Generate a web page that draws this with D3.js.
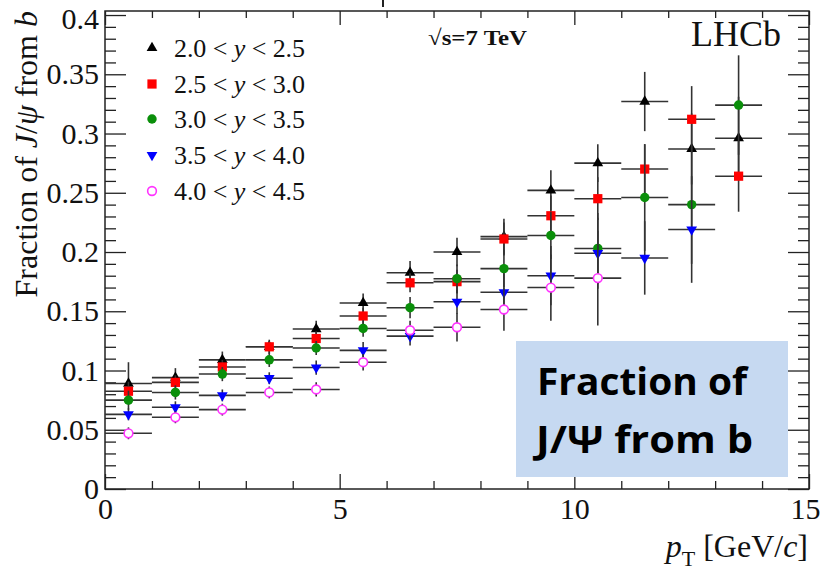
<!DOCTYPE html>
<html>
<head>
<meta charset="utf-8">
<script src="https://cdn.jsdelivr.net/npm/d3@7/dist/d3.min.js"></script>
<style>
  html, body { margin: 0; padding: 0; background: #fff; }
  svg { display: block; }
</style>
</head>
<body>
<svg id="chart" width="823" height="577"></svg>
<script>
// ---------------- data ----------------
const binLow  = [0, 1, 2, 3, 4, 5, 6, 7, 8, 9, 10, 11, 12, 13];
const binHigh = [1, 2, 3, 4, 5, 6, 7, 8, 9, 10, 11, 12, 13, 14];
const binCenter = [0.5, 1.5, 2.5, 3.5, 4.5, 5.5, 6.5, 7.5, 8.5, 9.5, 10.5, 11.5, 12.5, 13.5];

const seriesNames = ["2.0 < y < 2.5", "2.5 < y < 3.0", "3.0 < y < 3.5", "3.5 < y < 4.0", "4.0 < y < 4.5"];

const valY20 = [0.089, 0.094, 0.109, 0.120, 0.135, 0.157, 0.1825, 0.200, 0.213, 0.252, 0.275, 0.327, 0.287, 0.296];
const errY20 = [0.018, 0.008, 0.007, 0.006, 0.007, 0.008, 0.010, 0.012, 0.015, 0.017, 0.016, 0.025, 0.030, 0.035];

const valY25 = [0.0825, 0.090, 0.103, 0.120, 0.127, 0.146, 0.174, 0.175, 0.211, 0.2306, 0.245, 0.270, 0.312, 0.264];
const errY25 = [0.008, 0.006, 0.006, 0.005, 0.006, 0.007, 0.008, 0.010, 0.014, 0.017, 0.018, 0.021, 0.028, 0.030];

const valY30 = [0.075, 0.0815, 0.097, 0.109, 0.119, 0.1355, 0.153, 0.1775, 0.186, 0.214, 0.203, 0.246, 0.240, 0.324];
const errY30 = [0.008, 0.006, 0.006, 0.006, 0.006, 0.007, 0.009, 0.012, 0.016, 0.020, 0.030, 0.045, 0.050, 0.042];

const valY35 = [0.063, 0.069, 0.079, 0.0935, 0.1025, 0.117, 0.129, 0.158, 0.166, 0.180, 0.199, 0.195, 0.219];
const errY35 = [0.005, 0.005, 0.005, 0.005, 0.006, 0.007, 0.008, 0.010, 0.016, 0.025, 0.030, 0.031, 0.045];

const valY40 = [0.047, 0.0605, 0.067, 0.0815, 0.084, 0.107, 0.134, 0.1365, 0.1515, 0.170, 0.178];
const errY40 = [0.005, 0.005, 0.005, 0.005, 0.006, 0.007, 0.008, 0.012, 0.018, 0.028, 0.040];

const xMajorTicks = [0, 5, 10, 15];
const xMinorTicks = [1, 2, 3, 4, 6, 7, 8, 9, 11, 12, 13, 14];
const yMajorTicks = [0, 0.05, 0.1, 0.15, 0.2, 0.25, 0.3, 0.35, 0.4];
const yMajorLabels = ["0", "0.05", "0.1", "0.15", "0.2", "0.25", "0.3", "0.35", "0.4"];
const yMinorTicks = [0.01,0.02,0.03,0.04,0.06,0.07,0.08,0.09,0.11,0.12,0.13,0.14,0.16,0.17,0.18,0.19,
                     0.21,0.22,0.23,0.24,0.26,0.27,0.28,0.29,0.31,0.32,0.33,0.34,0.36,0.37,0.38,0.39];

// ---------------- layout ----------------
const L = 105, R = 809, T = 11, B = 489;
const svg = d3.select("#chart");
const x = d3.scaleLinear().domain([0, 15]).range([L, R]);
const y = d3.scaleLinear().domain([0, 0.4034]).range([B, T]);

const serif = "'Liberation Serif', 'Times New Roman', serif";
const axisColor = "#222";

// frame
svg.append("rect").attr("x", L).attr("y", T).attr("width", R - L).attr("height", B - T)
  .attr("fill", "none").attr("stroke", axisColor).attr("stroke-width", 1.5);

function styleAxis(g) {
  g.select(".domain").remove();
  g.selectAll("line").attr("stroke", axisColor).attr("stroke-width", 1.3);
}

// bottom axis
svg.append("g").attr("transform", `translate(0,${B})`)
  .call(d3.axisBottom(x).tickValues(xMajorTicks).tickSize(-15).tickPadding(9).tickFormat(d3.format("d")))
  .call(styleAxis)
  .call(g => g.selectAll("text").attr("font-family", serif).attr("font-size", 30).attr("fill", "#111")
        .attr("dx", d => d === 15 ? -4 : 0));
svg.append("g").attr("transform", `translate(0,${B})`)
  .call(d3.axisBottom(x).tickValues(xMinorTicks).tickSize(-8).tickFormat(""))
  .call(styleAxis);
// top axis
svg.append("g").attr("transform", `translate(0,${T})`)
  .call(d3.axisTop(x).tickValues(xMajorTicks).tickSize(-14).tickFormat(""))
  .call(styleAxis);
svg.append("g").attr("transform", `translate(0,${T})`)
  .call(d3.axisTop(x).tickValues(xMinorTicks).tickSize(-7).tickFormat(""))
  .call(styleAxis);

// left axis
svg.append("g").attr("transform", `translate(${L},0)`)
  .call(d3.axisLeft(y).tickValues(yMajorTicks).tickSize(-21).tickPadding(6)
        .tickFormat((d, i) => yMajorLabels[i]))
  .call(styleAxis)
  .call(g => g.selectAll("text").attr("font-family", serif).attr("font-size", 30).attr("fill", "#111")
        .attr("y", d => d === 0.4 ? 4 : 0));
svg.append("g").attr("transform", `translate(${L},0)`)
  .call(d3.axisLeft(y).tickValues(yMinorTicks).tickSize(-11).tickFormat(""))
  .call(styleAxis);
// right axis
svg.append("g").attr("transform", `translate(${R},0)`)
  .call(d3.axisRight(y).tickValues(yMajorTicks).tickSize(-21).tickFormat(""))
  .call(styleAxis);
svg.append("g").attr("transform", `translate(${R},0)`)
  .call(d3.axisRight(y).tickValues(yMinorTicks).tickSize(-11).tickFormat(""))
  .call(styleAxis);

// axis titles
const xt = svg.append("text").attr("x", R - 1).attr("y", 557).attr("text-anchor", "end")
  .attr("font-family", serif).attr("font-size", 32).attr("fill", "#111");
xt.append("tspan").attr("font-style", "italic").text("p");
xt.append("tspan").attr("font-size", 22).attr("dy", 9).text("T");
xt.append("tspan").attr("dy", -9).text(" [GeV/");
xt.append("tspan").attr("font-style", "italic").text("c");
xt.append("tspan").text("]");

const yt = svg.append("text").attr("transform", `translate(37,${T}) rotate(-90)`)
  .attr("text-anchor", "end").attr("font-family", serif).attr("font-size", 32).attr("fill", "#111");
yt.append("tspan").text("Fraction of ");
yt.append("tspan").attr("font-style", "italic").text("J");
yt.append("tspan").text("/");
yt.append("tspan").attr("font-style", "italic").text("ψ");
yt.append("tspan").text(" from ");
yt.append("tspan").attr("font-style", "italic").text("b");

// small remnant of a cut title at the very top
svg.append("line").attr("x1", 383).attr("x2", 383).attr("y1", 0).attr("y2", 7)
  .attr("stroke", "#222").attr("stroke-width", 2);

// ---------------- series ----------------
const triUp = d3.symbol().type(d3.symbolTriangle).size(50)();
const square = d3.symbol().type(d3.symbolSquare).size(85)();
const circle = d3.symbol().type(d3.symbolCircle).size(70)();
const openCircle = d3.symbol().type(d3.symbolCircle).size(60)();

const series = [
  { vals: valY20, errs: errY20, path: triUp,  rot: 0,   fill: "#000000", stroke: "none" },
  { vals: valY25, errs: errY25, path: square, rot: 0,   fill: "#ff0000", stroke: "none" },
  { vals: valY30, errs: errY30, path: circle, rot: 0,   fill: "#0a8f0a", stroke: "none" },
  { vals: valY35, errs: errY35, path: triUp,  rot: 180, fill: "#0000ff", stroke: "none" },
  { vals: valY40, errs: errY40, path: openCircle, rot: 0, fill: "#ffffff", stroke: "#ff33ff" }
];

const errColor = "#333";
series.forEach(s => {
  const g = svg.append("g");
  const pts = s.vals.map((v, i) => ({ i, v, e: s.errs[i] }));
  g.selectAll("line.h").data(pts).join("line")
    .attr("x1", d => x(binLow[d.i])).attr("x2", d => x(binHigh[d.i]))
    .attr("y1", d => y(d.v)).attr("y2", d => y(d.v))
    .attr("stroke", errColor).attr("stroke-width", 1.6);
  g.selectAll("line.v").data(pts).join("line")
    .attr("x1", d => x(binCenter[d.i])).attr("x2", d => x(binCenter[d.i]))
    .attr("y1", d => y(d.v - d.e)).attr("y2", d => y(d.v + d.e))
    .attr("stroke", errColor).attr("stroke-width", 1.6);
  g.selectAll("path").data(pts).join("path")
    .attr("d", s.path)
    .attr("transform", d => `translate(${x(binCenter[d.i])},${y(d.v)}) rotate(${s.rot})`)
    .attr("fill", s.fill).attr("stroke", s.stroke).attr("stroke-width", s.stroke === "none" ? 0 : 1.6);
});

// ---------------- legend ----------------
const legRowY = [48, 84, 119, 155, 191];
const leg = svg.append("g");
series.forEach((s, i) => {
  leg.append("path").attr("d", s.path)
    .attr("transform", `translate(152,${legRowY[i]}) rotate(${s.rot})`)
    .attr("fill", s.fill).attr("stroke", s.stroke).attr("stroke-width", s.stroke === "none" ? 0 : 1.6);
  const parts = seriesNames[i].split(" y ");
  const t = leg.append("text").attr("x", 174).attr("y", legRowY[i]).attr("dy", "0.33em")
    .attr("font-family", serif).attr("font-size", 26).attr("fill", "#111")
    .attr("textLength", 131).attr("lengthAdjust", "spacing");
  t.append("tspan").text(parts[0] + " ");
  t.append("tspan").attr("font-style", "italic").text("y");
  t.append("tspan").text(" " + parts[1]);
});

// ---------------- labels ----------------
svg.append("text").attr("x", 428).attr("y", 45)
  .attr("font-family", serif).attr("font-weight", "bold").attr("font-size", 22).attr("fill", "#111")
  .attr("textLength", 99).attr("lengthAdjust", "spacingAndGlyphs")
  .text("\u221As=7 TeV");
svg.append("text").attr("x", 691).attr("y", 46)
  .attr("font-family", serif).attr("font-size", 36).attr("fill", "#111")
  .text("LHCb");

// annotation box
svg.append("rect").attr("x", 516).attr("y", 341).attr("width", 272).attr("height", 136)
  .attr("fill", "#c6d9f1");
const sans = "'Open Sans', Lato, 'Noto Sans', sans-serif";
svg.append("text").attr("x", 537).attr("y", 395)
  .attr("font-family", sans).attr("font-weight", "bold").attr("font-size", 38).attr("fill", "#000")
  .attr("textLength", 210).attr("lengthAdjust", "spacingAndGlyphs")
  .text("Fraction of");
svg.append("text").attr("x", 536).attr("y", 453)
  .attr("font-family", sans).attr("font-weight", "bold").attr("font-size", 38).attr("fill", "#000")
  .attr("textLength", 217).attr("lengthAdjust", "spacingAndGlyphs")
  .text("J/Ψ from b");
</script>
</body>
</html>
